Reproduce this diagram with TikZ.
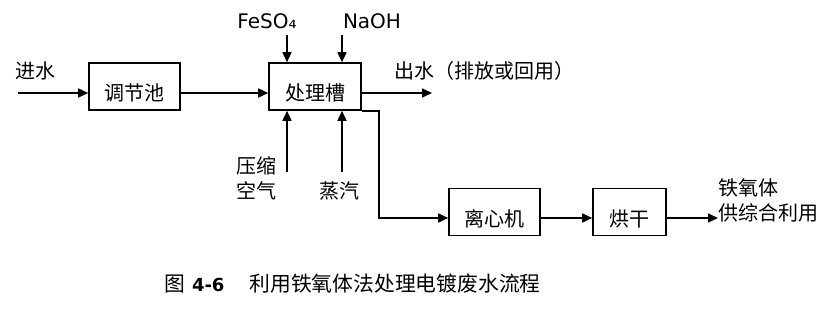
\documentclass[tikz,border=0pt]{standalone}
\usepackage{fontspec}
\setmainfont{Noto Sans CJK SC}
\newfontfamily\lat{DejaVu Sans}
\usetikzlibrary{arrows.meta,calc}
\begin{document}
\begin{tikzpicture}[x=1pt,y=-1pt,
  box/.style={draw,line width=1.6pt,minimum width=91pt,text height=37.6pt,text depth=9.4pt,inner ysep=0pt,inner xsep=0pt,font=\fontsize{20}{24}\selectfont},
  flow/.style={line width=1.6pt,-{Triangle[length=10pt,width=9pt]}},
  lbl/.style={inner sep=0pt,font=\fontsize{20}{25}\selectfont}]
\useasboundingbox (0,0) rectangle (839,310);
\node[box] (tj) at (134.5,86.5) {调节池};
\node[box,minimum width=92pt] (cl) at (315,86.5) {处理槽};
\node[box] (lx) at (494.5,212) {离心机};
\node[box,minimum width=73pt] (hg) at (629.5,212) {烘干};
% labels
\node[lbl] (jin) at (36,71) {进水};
\node[lbl,anchor=west] (chu) at (394,71) {出水（排放或回用）};
\node[lbl] (fe) at (267,21) {\lat FeSO₄};
\node[lbl] (na) at (372,21) {\lat NaOH};
\node[lbl,align=center] (air) at (256,178.5) {压缩\\空气};
\node[lbl] (st) at (339,191) {蒸汽};
\node[lbl,anchor=west,align=left] (pl) at (718,200) {铁氧体\\供综合利用};
\node[lbl,anchor=west,font=\fontsize{20.8}{25}\selectfont] (cap) at (164,284) {图\hspace{7pt}{\lat\bfseries\fontsize{18}{22}\selectfont 4-6}\hspace{25pt}利用铁氧体法处理电镀废水流程};
% free ends
\coordinate (in) at (18,93);
\coordinate (out) at (432,93);
\coordinate (feA) at (287,35);
\coordinate (naA) at (342,35);
\coordinate (airA) at (287,172);
\coordinate (stA) at (342,172);
\coordinate (prod) at (718,218);
% connectors
\draw[flow] (in) -- ($(tj.west)+(0,6.5)$);
\draw[flow] ($(tj.east)+(0,6.5)$) -- ($(cl.west)+(0,6.5)$);
\draw[flow] ($(cl.east)+(0,6.5)$) -- (out);
\draw[flow] (feA) -- (feA |- cl.north);
\draw[flow] (naA) -- (naA |- cl.north);
\draw[flow] (airA) -- (airA |- cl.south);
\draw[flow] (stA) -- (stA |- cl.south);
\draw[flow] (cl.south east) -- ++(17,0) |- ($(lx.west)+(0,6)$);
\draw[flow] ($(lx.east)+(0,6)$) -- ($(hg.west)+(0,6)$);
\draw[flow] ($(hg.east)+(0,6)$) -- (prod);
\end{tikzpicture}
\end{document}
